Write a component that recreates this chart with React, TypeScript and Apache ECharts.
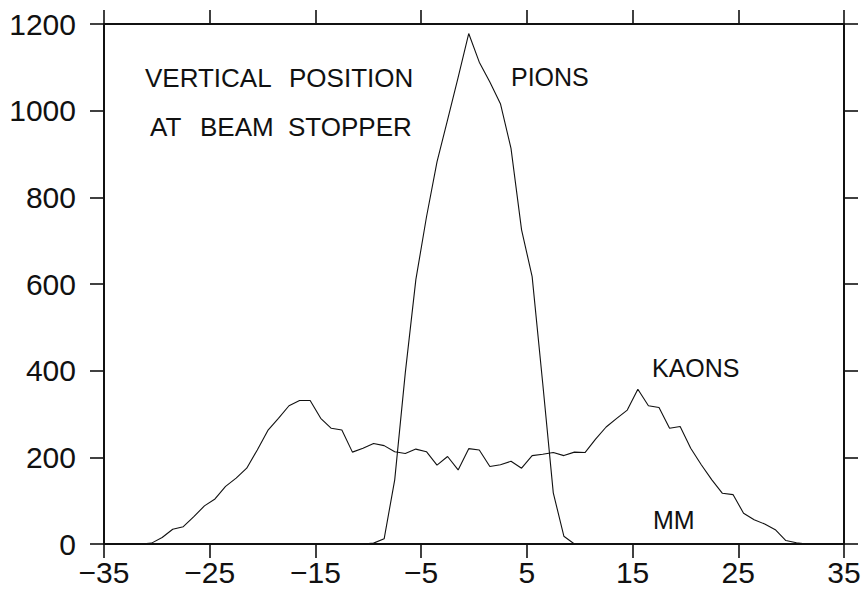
import React, { useEffect, useRef } from "react";
import * as echarts from "echarts";

// Bin centres (mm)
const kaonsX = [
  -34.5, -33.5, -32.5, -31.5, -30.5, -29.5, -28.5, -27.5, -26.5, -25.5,
  -24.5, -23.5, -22.5, -21.5, -20.5, -19.5, -18.5, -17.5, -16.5, -15.5,
  -14.5, -13.5, -12.5, -11.5, -10.5, -9.5, -8.5, -7.5, -6.5, -5.5,
  -4.5, -3.5, -2.5, -1.5, -0.5, 0.5, 1.5, 2.5, 3.5, 4.5,
  5.5, 6.5, 7.5, 8.5, 9.5, 10.5, 11.5, 12.5, 13.5, 14.5,
  15.5, 16.5, 17.5, 18.5, 19.5, 20.5, 21.5, 22.5, 23.5, 24.5,
  25.5, 26.5, 27.5, 28.5, 29.5, 30.5, 31.5, 32.5, 33.5, 34.5,
];
const kaonsY = [
  0, 0, 0, 0, 2, 15, 34, 40, 63, 88,
  104, 133, 152, 175, 217, 262, 290, 319, 331, 331,
  290, 267, 263, 212, 221, 232, 227, 213, 209, 219,
  213, 182, 202, 171, 220, 217, 179, 183, 191, 175,
  204, 207, 211, 204, 212, 211, 242, 270, 290, 309,
  357, 319, 315, 267, 271, 221, 183, 148, 117, 114,
  71, 56, 46, 33, 8, 3, 0, 0, 0, 0,
];

const pionsX = [
  -10.5, -9.5, -8.5, -7.5, -6.5, -5.5, -4.5, -3.5, -2.5, -1.5,
  -0.5, 0.5, 1.5, 2.5, 3.5, 4.5, 5.5, 6.5, 7.5, 8.5, 9.5,
];
const pionsY = [
  0, 2, 12, 148, 395, 610, 754, 882, 979, 1077,
  1178, 1112, 1066, 1016, 913, 725, 617, 371, 118, 18, 0,
];

const xMin = -35;
const xMax = 35;
const xStep = 10;
const yMin = 0;
const yMax = 1200;
const yStep = 200;

const titleWords1 = ["VERTICAL", "POSITION"];
const titleWords2 = ["AT", "BEAM", "STOPPER"];
const pionsLabel = "PIONS";
const kaonsLabel = "KAONS";
const unitLabel = "MM";

const FONT = '"Liberation Sans", Arial, sans-serif';
const INK = "#111";

export default function App() {
  const ref = useRef<HTMLDivElement>(null);

  useEffect(() => {
    if (!ref.current) return;
    const chart = echarts.init(ref.current, null, { renderer: "svg" });

    const fmt = (v: number) => (v < 0 ? "\u2212" + Math.abs(v) : String(v));
    const axisLine = { show: true, onZero: false, lineStyle: { color: INK, width: 2 } };
    const axisTick = { show: true, inside: false, length: 14, lineStyle: { color: INK, width: 1.6 } };

    const textStyle = (size: number) => ({
      font: `${size}px ${FONT}`,
      fill: INK,
      verticalAlign: "middle" as const,
      align: "left" as const,
    });

    const wordText = (text: string, x: number, y: number, size: number) => ({
      type: "text",
      x,
      y,
      silent: true,
      style: { text, ...textStyle(size) },
    });

    chart.setOption({
      animation: false,
      backgroundColor: "#fff",
      grid: { left: 104, right: 22, top: 24, bottom: 52, containLabel: false },
      xAxis: [
        {
          type: "value",
          position: "bottom",
          min: xMin,
          max: xMax,
          interval: xStep,
          axisLine,
          axisTick,
          splitLine: { show: false },
          axisLabel: {
            show: true,
            margin: 13,
            color: INK,
            fontFamily: FONT,
            fontSize: 30,
            formatter: fmt,
          },
        },
        {
          type: "value",
          position: "top",
          min: xMin,
          max: xMax,
          interval: xStep,
          axisLine,
          axisTick,
          splitLine: { show: false },
          axisLabel: { show: false },
        },
      ],
      yAxis: [
        {
          type: "value",
          position: "left",
          min: yMin,
          max: yMax,
          interval: yStep,
          axisLine,
          axisTick,
          splitLine: { show: false },
          axisLabel: {
            show: true,
            margin: 28,
            color: INK,
            fontFamily: FONT,
            fontSize: 30,
            formatter: (v: number) => String(v),
          },
        },
        {
          type: "value",
          position: "right",
          min: yMin,
          max: yMax,
          interval: yStep,
          axisLine,
          axisTick,
          splitLine: { show: false },
          axisLabel: { show: false },
        },
      ],
      series: [
        {
          name: "KAONS",
          type: "line",
          data: kaonsX.map((x, i) => [x, kaonsY[i]]),
          showSymbol: false,
          lineStyle: { color: INK, width: 1.1 },
          silent: true,
        },
        {
          name: "PIONS",
          type: "line",
          data: pionsX.map((x, i) => [x, pionsY[i]]),
          showSymbol: false,
          lineStyle: { color: INK, width: 1.1 },
          silent: true,
        },
      ],
      graphic: [
        wordText(titleWords1[0], 145, 78, 26),
        wordText(titleWords1[1], 289, 78, 26),
        wordText(titleWords2[0], 150, 127, 26),
        wordText(titleWords2[1], 200, 127, 26),
        wordText(titleWords2[2], 288, 127, 26),
        wordText(pionsLabel, 511, 77, 25),
        wordText(kaonsLabel, 652, 368, 25),
        wordText(unitLabel, 653, 520, 25),
      ],
    });

    return () => chart.dispose();
  }, []);

  return (
    <div
      ref={ref}
      style={{ position: "fixed", left: 0, top: 0, width: 866, height: 596, background: "#fff" }}
    />
  );
}
